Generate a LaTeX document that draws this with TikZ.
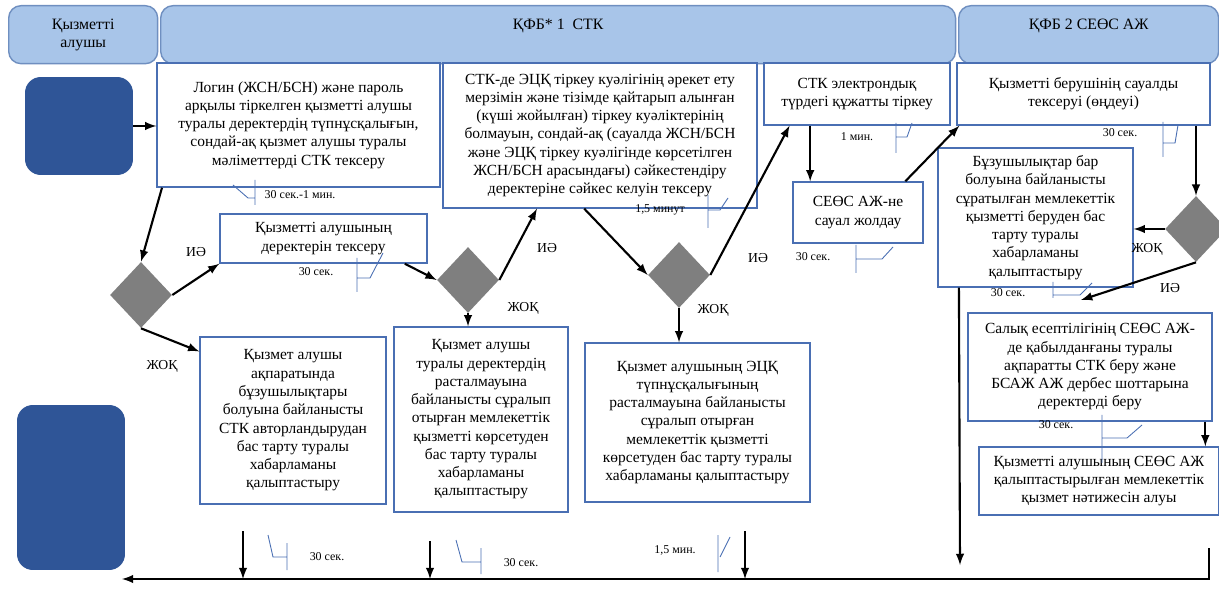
\documentclass[tikz,border=0pt]{standalone}
\usepackage{fontspec}
\setmainfont{Liberation Serif}
\usetikzlibrary{shapes.geometric,calc}

\definecolor{hdrfill}{HTML}{A8C5E9}
\definecolor{hdrline}{HTML}{6F8FC0}
\definecolor{termblue}{HTML}{2F5597}
\definecolor{boxline}{HTML}{4A6FB3}
\definecolor{decgray}{HTML}{7F7F7F}

\tikzset{
  lane/.style={draw=hdrline, fill=hdrfill, line width=0.8pt, rounded corners=7pt, align=center, inner sep=0pt, anchor=north west, minimum height=1.16cm, font=\fontsize{9}{10.4}\selectfont},
  term/.style={fill=termblue, rounded corners=9pt, inner sep=0pt},
  stepbox/.style={draw=boxline, fill=white, line width=0.8pt, align=center, inner sep=0pt, font=\fontsize{8.8}{10.4}\selectfont},
  dec/.style={diamond, fill=decgray, inner sep=0pt, minimum width=1.24cm, minimum height=1.32cm},
  tm/.style={inner sep=0pt, font=\fontsize{6.8}{8}\selectfont},
  ans/.style={inner sep=0pt, font=\fontsize{7.8}{9}\selectfont},
  flow/.style={->, very thick},
  callout/.style={draw=boxline, line width=0.5pt}
}

\begin{document}
\begin{tikzpicture}[x=0.02cm, y=-0.02cm, >=latex]
    \useasboundingbox (0,0) rectangle (1219,590);

    % swimlane headers
    \node[lane, minimum width=2.98cm] (lane1) at (8,5) {Қызметті\\алушы};
    \node[lane, minimum width=15.9cm, text depth=0.42cm] (lane2) at (160,5) {ҚФБ* 1\ \ СТК};
    \node[lane, minimum width=5.2cm, text depth=0.42cm] (lane3) at (958,5) {ҚФБ 2 СЕӨС АЖ};

    % start / end
    \node[term, minimum width=2.16cm, minimum height=1.96cm] (src) at (79,126) {};
    \node[term, minimum width=2.16cm, minimum height=3.3cm] (sink) at (71,487.5) {};

    % steps
    \node[stepbox, minimum width=5.66cm, minimum height=2.48cm] (login) at (298.5,125) {Логин (ЖСН/БСН) және пароль\\арқылы тіркелген қызметті алушы\\туралы деректердің түпнұсқалығын,\\сондай-ақ қызмет алушы туралы\\мәліметтерді СТК тексеру};
    \node[stepbox, minimum width=6.28cm, minimum height=2.9cm] (ecp) at (600,135.5) {СТК-де ЭЦҚ тіркеу куәлігінің әрекет ету\\мерзімін және тізімде қайтарып алынған\\(күші жойылған) тіркеу куәліктерінің\\болмауын, сондай-ақ (сауалда ЖСН/БСН\\және ЭЦҚ тіркеу куәлігінде көрсетілген\\ЖСН/БСН арасындағы) сәйкестендіру\\деректеріне сәйкес келуін тексеру};
    \node[stepbox, minimum width=3.72cm, minimum height=1.24cm] (reg) at (857,94) {СТК электрондық\\түрдегі құжатты тіркеу};
    \node[stepbox, minimum width=5.06cm, minimum height=1.24cm] (check) at (1083.5,94) {Қызметті берушінің сауалды\\тексеруі (өңдеуі)};
    \node[stepbox, minimum width=2.6cm, minimum height=1.22cm] (query) at (858,212.5) {СЕӨС АЖ-не\\сауал жолдау};
    \node[stepbox, minimum width=3.9cm, minimum height=2.78cm] (refuse) at (1035.5,217.5) {Бұзушылықтар бар\\болуына байланысты\\сұратылған мемлекеттік\\қызметті беруден бас\\тарту туралы\\хабарламаны\\қалыптастыру};
    \node[stepbox, minimum width=4.14cm, minimum height=0.98cm] (verify) at (323.5,238.5) {Қызметті алушының\\деректерін тексеру};
    \node[stepbox, minimum width=3.72cm, minimum height=3.34cm] (authno) at (293,420.5) {Қызмет алушы\\ақпаратында\\бұзушылықтары\\болуына байланысты\\СТК авторландырудан\\бас тарту туралы\\хабарламаны\\қалыптастыру};
    \node[stepbox, minimum width=3.48cm, minimum height=3.7cm] (datano) at (481,419.5) {Қызмет алушы\\туралы деректердің\\расталмауына\\байланысты сұралып\\отырған мемлекеттік\\қызметті көрсетуден\\бас тарту туралы\\хабарламаны\\қалыптастыру};
    \node[stepbox, minimum width=4.5cm, minimum height=3.18cm] (ecpno) at (697.5,422.5) {Қызмет алушының ЭЦҚ\\түпнұсқалығының\\расталмауына байланысты\\сұралып отырған\\мемлекеттік қызметті\\көрсетуден бас тарту туралы\\хабарламаны қалыптастыру};
    \node[stepbox, minimum width=4.88cm, minimum height=2.16cm] (tax) at (1090,367) {Салық есептілігінің СЕӨС АЖ-\\де қабылданғаны туралы\\ақпаратты СТК беру және\\БСАЖ АЖ дербес шоттарына\\деректерді беру};
    \node[stepbox, minimum width=4.8cm, minimum height=1.36cm] (result) at (1099,481) {Қызметті алушының СЕӨС АЖ\\қалыптастырылған мемлекеттік\\қызмет нәтижесін алуы};

    % decisions
    \node[dec] (q1) at (141,295) {};
    \node[dec] (q2) at (468,280) {};
    \node[dec] (q3) at (679,275) {};
    \node[dec] (q4) at (1196,229) {};

    % answers
    \node[ans] (y1) at (196,252) {ИӘ};
    \node[ans] (n1) at (162,366) {ЖОҚ};
    \node[ans] (y2) at (547,248) {ИӘ};
    \node[ans] (n2) at (523,308) {ЖОҚ};
    \node[ans] (y3) at (758,258) {ИӘ};
    \node[ans] (n3) at (713,310) {ЖОҚ};
    \node[ans] (n4) at (1147,249) {ЖОҚ};
    \node[ans] (y4) at (1170,288) {ИӘ};

    % times
    \node[tm] (t1) at (300,195) {30 сек.-1 мин.};
    \node[tm] (t2) at (316,272) {30 сек.};
    \node[tm] (t3) at (660,210) {1,5 минут};
    \node[tm] (t4) at (857,137) {1 мин.};
    \node[tm] (t5) at (1120,133) {30 сек.};
    \node[tm] (t6) at (813,257) {30 сек.};
    \node[tm] (t7) at (1008,293) {30 сек.};
    \node[tm] (t8) at (1056,425) {30 сек.};
    \node[tm] (t9) at (327,557) {30 сек.};
    \node[tm] (t10) at (521,563) {30 сек.};
    \node[tm] (t11) at (675,550) {1,5 мин.};

    % time callouts
    \draw[callout] (255,180)--(255,205) (233,185)--(248,198)--(255,198);
    \draw[callout] (357,258)--(357,292) (357,278)--(370,278)--(383,253);
    \draw[callout] (708,195)--(708,228) (708,210)--(720,210)--(728,198);
    \draw[callout] (896,123)--(896,153) (896,137)--(907,137)--(912,123);
    \draw[callout] (1163,122)--(1163,157) (1163,143)--(1175,143)--(1178,125);
    \draw[callout] (856,245)--(856,273) (856,259)--(882,259)--(893,247);
    \draw[callout] (1053,282)--(1053,298) (1053,295)--(1080,295)--(1092,283);
    \draw[callout] (1102,415)--(1102,463) (1102,438)--(1127,438)--(1142,425);
    \draw[callout] (268,535)--(273,557)--(287,557) (287,543)--(287,570);
    \draw[callout] (456,540)--(462,562)--(481,562) (481,548)--(481,574);
    \draw[callout] (718,535)--(718,572) (720,557)--(730,537);

    % free ends
    \coordinate (taxin) at (1081,300);
    \coordinate (drop) at (960,565);
    \coordinate (a1) at (243,531);
    \coordinate (a2) at (430,541);
    \coordinate (a3) at (745,531);
    \coordinate (e1) at (1209,548);
    \coordinate (e2) at (1209,579);
    \coordinate (e3) at (122,579);

    % flow
    \draw[flow] (src.east) -- (src.east -| login.west);
    \draw[flow] ($(login.south west)!0.02!(login.south east)$) -- (q1.north);
    \draw[flow] (q1.east) -- (verify.south west);
    \draw[flow] (q1.south) -- ($(authno.north west)!0.09!(authno.south west)$);
    \draw[flow] ($(verify.south west)!0.89!(verify.south east)$) -- (q2.west);
    \draw[flow] (q2.east) -- ($(ecp.south west)!0.3!(ecp.south east)$);
    \draw[flow] (q2.south) -- (q2.south |- datano.north);
    \draw[flow] ($(ecp.south west)!0.45!(ecp.south east)$) -- (q3.west);
    \draw[flow] (q3.east) -- ($(reg.south west)!0.14!(reg.south east)$);
    \draw[flow] (q3.south) -- (q3.south |- ecpno.north);
    \draw[flow] ($(reg.south west)!0.25!(reg.south east)$) coordinate (r1) -- (r1 |- query.north);
    \draw[flow] ($(query.north west)!0.86!(query.north east)$) -- ($(check.south west)+(3,0)$);
    \draw[flow] (q4.north |- check.south) -- (q4.north);
    \draw[flow] (q4.west) -- (q4.west -| refuse.east);
    \draw[flow] (q4.south) -- (taxin);
    \draw[flow] ($(tax.south west)!0.97!(tax.south east)$) coordinate (r2) -- (r2 |- result.north);
    \draw[flow] ($(refuse.south west)!0.11!(refuse.south east)$) -- (drop);
    \draw[flow] (a1) -- (a1 |- e2);
    \draw[flow] (a2) -- (a2 |- e2);
    \draw[flow] (a3) -- (a3 |- e2);
    \draw[flow] (e1) -- (e2) -- (e3);
\end{tikzpicture}
\end{document}
